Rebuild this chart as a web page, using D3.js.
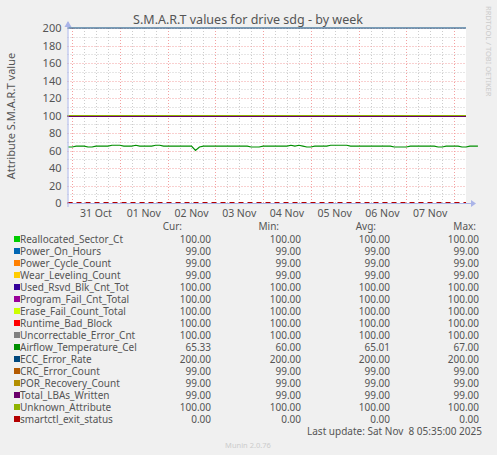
<!DOCTYPE html>
<html><head><meta charset="utf-8">
<script src="https://cdn.jsdelivr.net/npm/d3@7"></script>
<style>
body{margin:0;background:#f0f0f0;}
text{font-family:"Noto Sans",sans-serif;fill:#555;}
</style></head>
<body><div id="chart"></div>
<script>
var names = ["Reallocated_Sector_Ct","Power_On_Hours","Power_Cycle_Count","Wear_Leveling_Count","Used_Rsvd_Blk_Cnt_Tot","Program_Fail_Cnt_Total","Erase_Fail_Count_Total","Runtime_Bad_Block","Uncorrectable_Error_Cnt","Airflow_Temperature_Cel","ECC_Error_Rate","CRC_Error_Count","POR_Recovery_Count","Total_LBAs_Written","Unknown_Attribute","smartctl_exit_status"];
var colors = ["#00CC00","#0066B3","#FF8000","#FFCC00","#330099","#990099","#CCFF00","#FF0000","#808080","#008F00","#00487D","#B35A00","#B38F00","#6B006B","#8FB300","#B30000"];
var curVals = ["100.00","99.00","99.00","99.00","100.00","100.00","100.00","100.00","100.00","65.33","200.00","99.00","99.00","99.00","100.00","0.00"];
var minVals = ["100.00","99.00","99.00","99.00","100.00","100.00","100.00","100.00","100.00","60.00","200.00","99.00","99.00","99.00","100.00","0.00"];
var avgVals = ["100.00","99.00","99.00","99.00","100.00","100.00","100.00","100.00","100.00","65.01","200.00","99.00","99.00","99.00","100.00","0.00"];
var maxVals = ["100.00","99.00","99.00","99.00","100.00","100.00","100.00","100.00","100.00","67.00","200.00","99.00","99.00","99.00","100.00","0.00"];
// constant series value per attribute (temperature drawn from its own array)
var flatVals = [100,99,99,99,100,100,100,100,100,null,200,99,99,99,100,0];
// temperature, one sample every 2 hours from 30 Oct 22:00
var tempVals = [64,64,65,65,65,64,64,65,65,65,65,66,66,66,65,65,65,66,65,65,65,65,66,66,65,65,65,65,65,65,65,65,60,64,65,65,65,65,65,65,65,65,65,65,65,65,64,64,64,65,65,65,65,65,65,65,66,65,66,65,64,64,65,65,65,65,66,66,66,66,66,65,65,65,65,65,65,65,65,65,65,65,64,64,64,64,65,65,65,65,65,65,65,64,64,65,65,65,65,64,64,65,65,65];
var yTicks = [0,20,40,60,80,100,120,140,160,180,200];
var dayLabels = ["31 Oct","01 Nov","02 Nov","03 Nov","04 Nov","05 Nov","06 Nov","07 Nov"];

var W = 497, H = 455;
var svg = d3.select("#chart").append("svg").attr("width", W).attr("height", H);
var pLeft = 67.5, pRight = 466, pTop = 28, pBottom = 203;

var t0 = new Date(2025, 9, 30, 21, 40), t1 = new Date(2025, 10, 8, 6, 0);
var x = d3.scaleTime().domain([t0, t1]).range([pLeft, pRight]);
var y = d3.scaleLinear().domain([0, 200]).range([pBottom, pTop]);

svg.append("rect").attr("x", pLeft).attr("y", pTop).attr("width", pRight - pLeft).attr("height", pBottom - pTop).attr("fill", "#fff");

// minor grid
d3.range(10, 200, 20).forEach(function(v) {
    svg.append("line").attr("x1", pLeft).attr("x2", pRight).attr("y1", Math.round(y(v)) + .5).attr("y2", Math.round(y(v)) + .5)
        .attr("stroke", "#ccc").attr("stroke-dasharray", "1,2");
});
d3.timeHour.every(6).range(t0, t1).forEach(function(d) {
    if (d.getHours() == 0) return;
    svg.append("line").attr("x1", Math.round(x(d)) + .5).attr("x2", Math.round(x(d)) + .5).attr("y1", pTop).attr("y2", pBottom)
        .attr("stroke", "#ccc").attr("stroke-dasharray", "1,2");
});
// major grid
yTicks.forEach(function(v) {
    svg.append("line").attr("x1", pLeft).attr("x2", pRight).attr("y1", Math.round(y(v)) + .5).attr("y2", Math.round(y(v)) + .5)
        .attr("stroke", "#f3a0a0").attr("stroke-dasharray", "1,2");
});
d3.timeDay.range(t0, t1).forEach(function(d) {
    svg.append("line").attr("x1", Math.round(x(d)) + .5).attr("x2", Math.round(x(d)) + .5).attr("y1", pTop).attr("y2", pBottom)
        .attr("stroke", "#f3a0a0").attr("stroke-dasharray", "1,2");
});

// y tick labels
svg.selectAll(".yl").data(yTicks).enter().append("text")
    .attr("x", pLeft - 6).attr("y", function(d) { return y(d) + 4; })
    .attr("text-anchor", "end").style("font-size", "11px").text(function(d) { return d; });
// day labels at noon
dayLabels.forEach(function(s, i) {
    var d = new Date(2025, 9, 31 + i, 12);
    svg.append("text").attr("x", x(d)).attr("y", 217).attr("text-anchor", "middle")
        .style("font-size", "10.5px").text(s);
});

// series
var line = d3.line().x(function(d) { return x(d[0]); }).y(function(d) { return y(d[1]); });
names.forEach(function(n, i) {
    var pts;
    if (flatVals[i] === null) {
        pts = tempVals.map(function(v, k) { return [d3.timeHour.offset(new Date(2025, 9, 30, 22), k * 2), v]; });
    } else {
        pts = [[t0, flatVals[i]], [t1, flatVals[i]]];
    }
    var p = svg.append("path").attr("d", line(pts)).attr("fill", "none")
        .attr("stroke", colors[i]).attr("stroke-width", 1.2);
    if (i == 15) p.attr("stroke-dasharray", "5,4").attr("stroke-width", 2);
});

// axes with arrows
svg.append("line").attr("x1", pLeft).attr("x2", 471).attr("y1", pBottom + .5).attr("y2", pBottom + .5).attr("stroke", "#aab4e8");
svg.append("line").attr("x1", pLeft + .5).attr("x2", pLeft + .5).attr("y1", 22).attr("y2", pBottom + 4).attr("stroke", "#aab4e8");
svg.append("path").attr("d", "M471,200 L476,203.5 L471,207 Z").attr("fill", "#aab4e8");
svg.append("path").attr("d", "M64.5,27 L68,21 L71.5,27 Z").attr("fill", "#aab4e8");

// titles
svg.append("text").attr("x", 248).attr("y", 24).attr("text-anchor", "middle").style("font-size", "12.5px").text("S.M.A.R.T values for drive sdg - by week");
svg.append("text").attr("transform", "translate(15,116) rotate(-90)").attr("text-anchor", "middle").style("font-size", "11px").text("Attribute S.M.A.R.T value");
svg.append("text").attr("transform", "translate(486,6) rotate(90)").style("font-size", "7.5px").style("fill", "#ccc").text("RRDTOOL / TOBI OETIKER");

// legend
var heads = [["Cur:", 182], ["Min:", 279], ["Avg:", 376], ["Max:", 476]];
heads.forEach(function(h) {
    svg.append("text").attr("x", h[1]).attr("y", 230).attr("text-anchor", "end").style("font-size", "10px").text(h[0]);
});
var cols = [[curVals, 211], [minVals, 301], [avgVals, 390], [maxVals, 479]];
names.forEach(function(n, i) {
    var yy = 243 + i * 12;
    svg.append("rect").attr("x", 14).attr("y", yy - 7).attr("width", 6).attr("height", 6).attr("fill", colors[i]);
    svg.append("text").attr("x", 20).attr("y", yy).style("font-size", "10px").text(n);
    cols.forEach(function(c) {
        svg.append("text").attr("x", c[1]).attr("y", yy).attr("text-anchor", "end").style("font-size", "10px").text(c[0][i]);
    });
});
svg.append("text").attr("x", 482).attr("y", 435).attr("text-anchor", "end").style("font-size", "10px").style("white-space", "pre").text("Last update: Sat Nov  8 05:35:00 2025");
svg.append("text").attr("x", 248).attr("y", 448).attr("text-anchor", "middle").style("font-size", "7.5px").style("fill", "#ccc").text("Munin 2.0.76");
</script></body></html>
